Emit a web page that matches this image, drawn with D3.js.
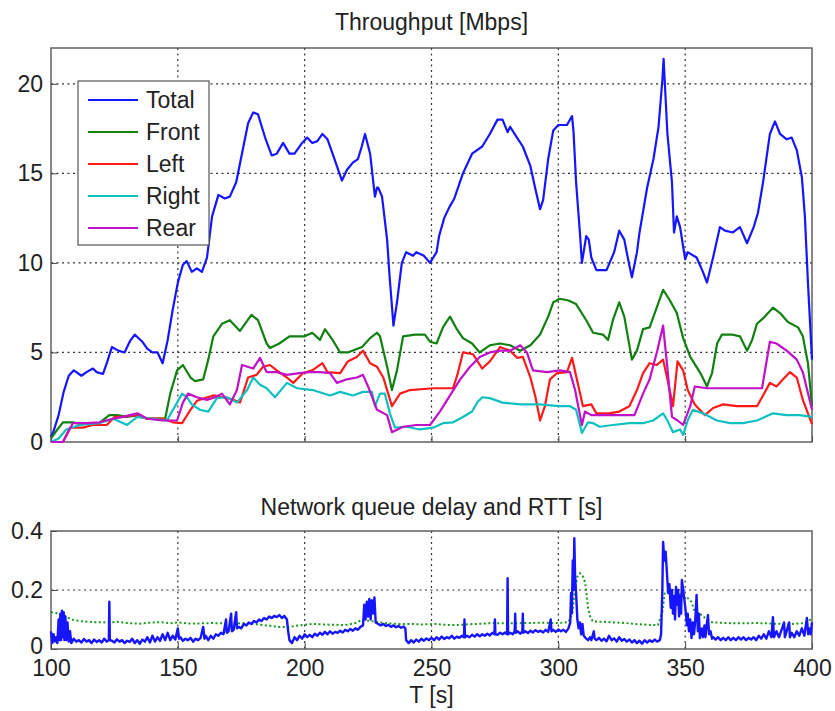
<!DOCTYPE html>
<html><head><meta charset="utf-8">
<script src="https://cdn.jsdelivr.net/npm/d3@7"></script>
<style>body{margin:0;background:#fff}svg text{font-family:"Liberation Sans",Arial,sans-serif;fill:#222}</style>
</head><body><svg id="c" width="835" height="711"></svg>
<script>
// ---- data ----
const xTicks = [100,150,200,250,300,350,400];
const thrTicks = [0,5,10,15,20];
const delayTicks = [0,0.2,0.4];
const seriesNames = ["Total","Front","Left","Right","Rear"];

const total = [[100,0.3],[101,0.6],[103,1.5],[105,2.8],[107,3.7],[109,4.0],[112,3.7],[114,3.9],[116.5,4.1],[118,3.9],[120.5,3.8],[122,4.4],[124,5.3],[126.5,5.1],[129,5.0],[131,5.6],[133,6.0],[136,5.6],[138,5.2],[140,5.0],[142,5.0],[144,4.4],[146,5.7],[148,7.4],[150,8.9],[152,9.9],[153.5,10.1],[155.5,9.5],[157.5,9.7],[159.5,9.5],[161.5,10.3],[163.5,12.6],[166,13.8],[168.5,13.6],[170.5,13.7],[173,14.5],[175,15.9],[177.7,17.8],[179.7,18.4],[181.6,18.3],[184.4,17.0],[187,16.0],[189,16.1],[191.5,16.7],[194,16.1],[196,16.1],[199,16.7],[201,17.0],[203,16.7],[205,16.8],[207,17.2],[209,16.9],[211,16.1],[214.7,14.6],[216.7,15.2],[219,15.6],[221,15.8],[222.5,16.5],[223.8,17.2],[225.8,16.1],[227.7,13.7],[228.5,14.2],[229,14.2],[230.5,13.7],[232.5,11.3],[233.5,9.2],[235,6.5],[236.4,7.8],[238.3,10.0],[240,10.6],[242.7,10.4],[244,10.6],[247,10.4],[249.4,10.0],[252,10.6],[253,11.5],[255,12.5],[257,13.1],[259,13.6],[262.4,15.0],[266,16.1],[270,16.5],[273,17.2],[276,18.0],[278,18.0],[280,17.3],[281,17.6],[283.7,17.0],[286,16.5],[289,15.4],[291,14.1],[292.8,13.0],[294,13.5],[296,15.8],[298,17.4],[300,17.7],[303.4,17.7],[305.4,18.2],[306,17.3],[307,14.5],[308.5,11.7],[309.3,10.0],[311,11.5],[312,11.3],[313,10.3],[315,9.6],[319,9.6],[322,10.6],[324,11.8],[326,11.3],[327.5,10.2],[329,9.2],[331,10.6],[332,11.7],[335,14.2],[337.5,15.8],[339.5,17.6],[341,20.2],[341.5,21.4],[342,20.0],[343,17.2],[344.8,14.5],[345.6,11.7],[346.7,12.6],[348,12.0],[350,10.2],[351,10.6],[354.5,10.3],[357,9.5],[358.6,8.9],[361,10.3],[363.7,12.0],[365.7,11.8],[368.8,11.7],[371.6,12.0],[374.4,11.1],[377,12.0],[378.7,12.8],[380.7,14.5],[383.4,17.2],[385.4,17.9],[387.4,17.2],[390,16.9],[392,17.0],[394,16.3],[396,14.8],[397.2,12.6],[398.4,8.9],[400,4.6]];

const front = [[100,0.2],[102,0.6],[104.7,1.1],[108.6,1.1],[112,1.0],[119,1.05],[123,1.5],[126,1.5],[130,1.4],[134,1.5],[138,1.3],[142,1.3],[145,1.3],[147,2.7],[149.7,4.0],[152,4.3],[155,3.6],[156.8,3.4],[160,3.5],[162,4.6],[164,5.9],[167.4,6.6],[170.5,6.8],[174.5,6.2],[179,7.1],[181.6,6.8],[185,5.5],[186.3,5.25],[190,5.5],[194,5.9],[200,5.9],[203,6.1],[206,5.7],[208,6.3],[211,5.7],[214,5.0],[217,5.0],[222.6,5.3],[225.8,5.8],[228.5,6.1],[229.7,5.9],[232.5,4.2],[234.4,2.9],[236.4,4.0],[238.8,5.9],[243.5,6.0],[247.4,6.0],[249.4,5.6],[252,5.5],[254.5,6.4],[257.3,7.0],[260,6.3],[262.4,5.8],[266,5.5],[269,5.0],[273,5.4],[277,5.5],[281,5.4],[285,5.1],[289,5.4],[292.8,6.0],[296,7.0],[298,7.8],[300.6,8.0],[304,7.9],[307,7.7],[311,6.8],[313.7,6.1],[317.6,6.0],[319.6,5.7],[321.5,6.8],[324,7.8],[326,7.0],[329,4.6],[331,5.1],[333.4,6.3],[336,6.4],[338,7.2],[341.3,8.5],[344,7.9],[346.7,7.2],[349.2,5.8],[352,4.75],[356,3.85],[358.6,3.1],[360.6,3.85],[362.6,5.5],[364.5,6.0],[368.4,6.0],[371.6,5.9],[374.4,5.1],[376.4,5.7],[378.3,6.6],[380.7,6.9],[384.6,7.5],[387.4,7.2],[390.5,6.7],[394.5,6.4],[396.4,5.9],[398.4,4.4],[400,2.0]];

const left = [[100,0],[104.7,0],[107.5,0.8],[112.6,0.8],[116.5,0.95],[122,0.95],[125,1.4],[128.5,1.4],[132,1.5],[138,1.3],[144,1.3],[148,1.1],[151.7,1.05],[155,1.8],[157.5,2.3],[160.7,2.45],[164,2.6],[168,2.5],[172,2.35],[174.5,2.2],[177.7,3.6],[181,3.75],[183.6,4.2],[186.3,4.3],[189,4.0],[193,3.6],[195.5,3.3],[199.4,3.85],[203,4.0],[207,4.4],[209,3.9],[214,3.85],[217,4.5],[220.5,4.75],[223,5.1],[225.8,4.4],[228.5,4.2],[231,3.6],[234.4,2.0],[237.6,2.7],[241.5,2.9],[250.6,3.0],[258.5,3.0],[260.4,3.85],[262.4,5.0],[266.4,4.9],[270,4.1],[273,4.5],[277,5.3],[281,5.1],[283.7,4.7],[286,4.75],[289,3.6],[291,2.5],[292.8,1.2],[294.7,2.0],[296.7,3.5],[299.5,3.85],[303.4,3.9],[305.4,4.7],[307.3,3.5],[309.7,2.0],[313,2.1],[315,1.6],[320,1.6],[324,1.7],[328,2.0],[331,2.9],[333.4,3.85],[336,4.4],[338.8,4.3],[341.3,4.6],[343,3.5],[345.2,2.0],[347,4.5],[349.2,4.0],[351,2.9],[353.8,2.1],[357.8,1.5],[361,1.9],[365,2.1],[370.4,2.0],[378.3,2.0],[380.7,2.6],[383.4,3.3],[386,3.1],[388.6,3.5],[391.3,3.9],[394,3.6],[396.4,2.35],[400,1.0]];

const right = [[100,0],[103,0.2],[106,0.7],[111.4,0.95],[119,1.05],[124.5,1.3],[130,0.95],[134,1.4],[139,1.3],[145.7,1.2],[149.7,2.2],[151.7,2.7],[153.6,2.5],[155.5,2.1],[158.7,1.8],[162,1.7],[165.4,2.45],[169.4,2.5],[173.3,2.2],[177.3,2.9],[179.7,3.6],[182.4,3.2],[185,3.0],[188.3,2.5],[193,3.3],[197,3.0],[203.2,2.9],[210,2.6],[214,2.8],[219,2.6],[223,2.8],[226.5,2.8],[227.7,2.0],[229.7,2.7],[231.6,2.7],[233.6,1.6],[235.6,0.8],[240.3,0.85],[245.4,0.7],[250.6,0.8],[254.5,1.05],[258.5,1.1],[262.4,1.4],[266,1.7],[268,2.2],[270,2.5],[273,2.45],[278,2.2],[285,2.1],[292.8,2.1],[300,2.0],[304.6,2.0],[307,1.8],[309.3,0.5],[311.7,1.1],[313.7,1.05],[316.4,0.85],[321.5,0.95],[328,1.05],[333.4,1.05],[337.4,1.2],[341.3,1.6],[343,1.2],[345.2,0.55],[348,0.7],[349.2,0.4],[351,1.2],[353,1.8],[357,1.6],[362.5,1.2],[367.7,1.05],[372.8,1.05],[378.3,1.2],[384.6,1.6],[390,1.5],[395,1.5],[400,1.4]];

const rear = [[100,0],[104.7,0],[108.6,1.05],[114,1.05],[119,1.1],[124.5,1.3],[128.5,1.4],[134,1.6],[138,1.3],[144,1.2],[149.7,1.2],[152,2.2],[154,2.7],[157.5,2.5],[161.5,2.35],[164.7,2.5],[167.4,2.7],[170.5,2.1],[173.3,2.9],[175.3,4.3],[179.7,4.1],[182.4,4.7],[185,3.9],[189,3.9],[193,3.75],[198,3.85],[202,3.9],[206,3.9],[210,3.85],[212.7,3.3],[216.7,3.5],[220.6,3.6],[223,3.75],[225,3.1],[228.5,1.8],[232.5,1.5],[234.4,0.55],[238.8,0.85],[244,0.95],[249.4,0.95],[253.3,1.7],[257.3,2.6],[261.3,3.5],[265.2,4.2],[269,4.75],[273,5.0],[277,5.1],[281,5.1],[285,5.4],[287.6,5.0],[290,4.0],[295.5,3.9],[300.6,4.0],[304.6,3.9],[306.6,2.9],[309.3,0.95],[310.5,1.7],[313,1.5],[319,1.5],[324,1.5],[330,1.5],[333.4,2.7],[336,3.5],[339,5.1],[341.3,6.5],[342.8,4.4],[344.8,1.4],[347,1.2],[349.2,0.95],[352,2.0],[353.8,3.1],[358.6,3.0],[365,3.0],[372.8,3.0],[380.3,3.0],[383.4,5.6],[386,5.5],[390,5.1],[394,4.6],[396.4,3.9],[400,1.8]];

const rtt = [[100,0.125],[102,0.122],[105,0.115],[107,0.105],[109,0.098],[112,0.094],[117,0.091],[122,0.09],[126,0.092],[130,0.088],[135,0.086],[140,0.09],[143.7,0.091],[147,0.087],[150,0.09],[155,0.086],[160,0.087],[163.5,0.088],[168,0.087],[172,0.086],[176.5,0.088],[181,0.084],[185,0.08],[189.5,0.075],[193,0.074],[196,0.078],[200,0.082],[203,0.085],[208,0.083],[212,0.082],[216,0.081],[220,0.088],[222.5,0.098],[226,0.095],[229,0.091],[233,0.087],[237,0.085],[242,0.085],[246,0.083],[251.5,0.085],[255,0.082],[260.5,0.081],[265,0.084],[270,0.086],[273.8,0.088],[280,0.087],[287,0.088],[293,0.089],[300,0.088],[304,0.091],[305.5,0.12],[306.5,0.2],[307.5,0.245],[308.5,0.257],[309.5,0.25],[310.5,0.227],[311.2,0.18],[311.7,0.139],[312.7,0.105],[313.7,0.093],[318,0.092],[322,0.09],[326.5,0.088],[330,0.085],[335,0.082],[339.3,0.081],[341,0.125],[342,0.193],[344.8,0.2],[346.5,0.19],[348.7,0.183],[351,0.173],[352.5,0.16],[353.8,0.125],[356.6,0.115],[358.5,0.1],[360.6,0.091],[365.7,0.088],[372,0.087],[378.7,0.088],[385,0.086],[392,0.085],[397.2,0.088],[399,0.098],[400,0.1]];

const queueDelay = [[100,0.06],[100.5,0.02],[101,0.05],[101.5,0.025],[102,0.04],[102.5,0.02],[103,0.1],[103.3,0.03],[103.7,0.12],[104,0.03],[104.3,0.13],[104.7,0.04],[105,0.125],[105.3,0.03],[105.7,0.11],[106,0.03],[106.5,0.09],[107,0.025],[107.5,0.06],[108,0.02],[109,0.035],[110,0.025],[111,0.03],[112,0.022],[113,0.034],[114,0.025],[115,0.03],[116,0.02],[117,0.032],[118,0.024],[119,0.03],[120,0.022],[121,0.035],[122,0.025],[122.8,0.03],[123,0.16],[123.2,0.03],[124,0.028],[125,0.022],[126,0.033],[127,0.025],[128,0.03],[129,0.02],[130,0.028],[131,0.024],[132,0.035],[133,0.02],[134,0.03],[135,0.018],[136,0.032],[137,0.025],[138,0.04],[139,0.022],[140,0.045],[141,0.025],[142,0.04],[143,0.028],[144,0.05],[145,0.03],[146,0.055],[147,0.03],[148,0.045],[149,0.032],[150,0.07],[150.5,0.035],[151,0.04],[152,0.028],[153,0.035],[154,0.03],[155,0.038],[156,0.025],[157,0.035],[158,0.03],[159,0.038],[160,0.075],[160.5,0.035],[161,0.045],[162,0.03],[163,0.045],[164,0.035],[165,0.05],[166,0.045],[167,0.055],[168,0.05],[169,0.1],[169.3,0.055],[170,0.06],[171,0.12],[171.3,0.06],[172,0.065],[173,0.125],[173.3,0.07],[174,0.075],[175,0.07],[176,0.085],[177,0.08],[178,0.09],[179,0.085],[180,0.095],[181,0.09],[182,0.1],[183,0.095],[184,0.105],[185,0.1],[186,0.11],[187,0.105],[188,0.112],[189,0.108],[190,0.115],[191,0.105],[192,0.112],[193,0.1],[193.5,0.06],[194,0.03],[195,0.02],[196,0.04],[197,0.03],[198,0.045],[199,0.035],[200,0.05],[201,0.04],[202,0.048],[203,0.04],[204,0.052],[205,0.045],[206,0.055],[207,0.048],[208,0.058],[209,0.05],[210,0.06],[211,0.052],[212,0.058],[213,0.055],[214,0.062],[215,0.056],[216,0.065],[217,0.06],[218,0.068],[219,0.062],[220,0.07],[221,0.065],[222,0.075],[223,0.08],[223.5,0.15],[224,0.1],[224.5,0.16],[225,0.11],[225.5,0.17],[226,0.1],[226.5,0.165],[227,0.12],[227.5,0.175],[228,0.09],[229,0.085],[230,0.08],[231,0.085],[232,0.078],[233,0.082],[234,0.075],[235,0.08],[236,0.074],[237,0.078],[238,0.072],[239,0.076],[239.7,0.07],[240,0.03],[241,0.02],[242,0.03],[243,0.022],[244,0.032],[245,0.025],[246,0.035],[247,0.028],[248,0.036],[249,0.03],[250,0.038],[251,0.03],[252,0.04],[253,0.032],[254,0.042],[255,0.034],[256,0.04],[257,0.036],[258,0.045],[259,0.035],[260,0.042],[261,0.038],[262,0.045],[262.8,0.04],[263,0.1],[263.2,0.04],[264,0.045],[265,0.04],[266,0.048],[267,0.042],[268,0.05],[269,0.043],[270,0.05],[271,0.045],[272,0.052],[273,0.046],[274,0.055],[274.8,0.05],[275,0.1],[275.2,0.05],[276,0.048],[277,0.055],[278,0.05],[279,0.056],[279.8,0.05],[280,0.24],[280.2,0.05],[281,0.055],[282,0.05],[282.8,0.06],[283,0.12],[283.2,0.055],[284,0.06],[285,0.052],[285.8,0.06],[286,0.12],[286.2,0.055],[287,0.06],[288,0.054],[289,0.062],[290,0.056],[291,0.064],[292,0.058],[293,0.062],[294,0.056],[295,0.065],[296,0.058],[297,0.1],[297.3,0.06],[298,0.065],[299,0.058],[300,0.066],[301,0.06],[302,0.065],[303,0.058],[304,0.07],[304.7,0.09],[305,0.19],[305.3,0.12],[305.7,0.3],[306,0.2],[306.3,0.376],[306.6,0.25],[307,0.19],[307.5,0.1],[308,0.07],[308.5,0.09],[309,0.05],[309.5,0.085],[310,0.045],[311,0.035],[311.7,0.03],[312.5,0.04],[313,0.03],[314,0.06],[314.3,0.035],[315,0.03],[316,0.038],[317,0.028],[318,0.035],[319,0.026],[320,0.045],[321,0.03],[322,0.036],[323,0.025],[324,0.04],[325,0.028],[326,0.034],[327,0.025],[328,0.032],[329,0.022],[330,0.03],[331,0.02],[332,0.028],[333,0.018],[334,0.03],[335,0.022],[336,0.03],[337,0.024],[338,0.032],[339,0.025],[340,0.03],[340.5,0.05],[341,0.2],[341.3,0.363],[341.8,0.3],[342.3,0.33],[342.8,0.26],[343.3,0.19],[343.8,0.22],[344.3,0.14],[344.8,0.2],[345.2,0.12],[345.6,0.18],[346,0.1],[346.4,0.21],[346.7,0.15],[347.2,0.2],[347.6,0.11],[348,0.18],[348.4,0.12],[348.7,0.234],[349.2,0.2],[349.8,0.16],[350.3,0.12],[350.7,0.08],[351,0.12],[351.5,0.06],[352,0.1],[352.5,0.037],[353,0.09],[353.5,0.05],[354,0.1],[354.5,0.183],[355,0.06],[355.4,0.12],[355.8,0.037],[356.5,0.07],[357,0.04],[357.6,0.08],[358,0.04],[358.6,0.09],[359,0.115],[359.4,0.05],[360,0.06],[360.6,0.035],[361,0.04],[362,0.032],[363,0.04],[364,0.03],[365,0.038],[366,0.03],[367,0.04],[368,0.03],[369,0.038],[370,0.03],[371,0.04],[372,0.032],[373,0.04],[374,0.03],[375,0.038],[376,0.032],[377,0.04],[378,0.03],[379,0.045],[380,0.035],[381,0.05],[382,0.035],[383,0.06],[384,0.04],[384.6,0.108],[385,0.04],[386,0.06],[387,0.04],[388,0.065],[389,0.09],[389.3,0.04],[390,0.06],[391,0.09],[391.3,0.04],[392,0.055],[393,0.04],[394,0.06],[395,0.045],[396,0.07],[397,0.045],[398,0.105],[398.5,0.05],[399,0.07],[399.5,0.05],[400,0.09]];

// ---- drawing ----
const svg = d3.select("#c");
svg.append("rect").attr("width",835).attr("height",711).attr("fill","#fff");
const FS = 23;
const L = 51, R = 812;
const x = d3.scaleLinear().domain([100,400]).range([L,R]);
const yT = d3.scaleLinear().domain([0,22]).range([442,48]);
const yB = d3.scaleLinear().domain([0,0.4]).range([649,531]);

const colors = {Total:"#1515ff",Front:"#108010",Left:"#ff1a1a",Right:"#10c0c0",Rear:"#c010c8"};
const dataMap = {Total:total,Front:front,Left:left,Right:right,Rear:rear};

function panel(y, yTicks, yFmt, showX){
  const g = svg.append("g");
  const [y0,y1] = y.range();
  g.selectAll(".gx").data(xTicks.slice(1,-1)).join("line")
    .attr("x1",d=>x(d)).attr("x2",d=>x(d)).attr("y1",y1).attr("y2",y0)
    .attr("stroke","#333").attr("stroke-width",1.2).attr("stroke-dasharray","2,3.5");
  g.selectAll(".gy").data(yTicks.filter(t=>y(t)<y0-1 && y(t)>y1+1)).join("line")
    .attr("x1",L).attr("x2",R).attr("y1",d=>y(d)).attr("y2",d=>y(d))
    .attr("stroke","#333").attr("stroke-width",1.2).attr("stroke-dasharray","2,3.5");
  const ax = d3.axisBottom(x).tickValues(xTicks).tickSize(-6).tickPadding(11)
    .tickFormat(showX ? d3.format("d") : "");
  const axG = g.append("g").attr("transform",`translate(0,${y0})`).call(ax);
  const ay = d3.axisLeft(y).tickValues(yTicks).tickSize(-6).tickPadding(8).tickFormat(yFmt);
  const ayG = g.append("g").attr("transform",`translate(${L},0)`).call(ay);
  [axG,ayG].forEach(a=>{a.select(".domain").remove();
    a.selectAll("line").attr("stroke","#444");
    a.selectAll("text").attr("font-size",FS).attr("fill","#222").attr("font-family","Liberation Sans, Arial, sans-serif");});
  g.append("rect").attr("x",L).attr("y",y1).attr("width",R-L).attr("height",y0-y1)
    .attr("fill","none").attr("stroke","#555").attr("stroke-width",1.4);
  return {g, ayG};
}

// top panel
const topPanel = panel(yT, thrTicks, d3.format("d"), false);
const gT = topPanel.g;
const lineT = d3.line().x(d=>x(d[0])).y(d=>yT(d[1]));
seriesNames.forEach(n=>{
  gT.append("path").datum(dataMap[n]).attr("d",lineT).attr("fill","none")
    .attr("stroke",colors[n]).attr("stroke-width",2.2).attr("stroke-linejoin","round");
});
// legend
const lg = svg.append("g");
lg.append("rect").attr("x",78).attr("y",81).attr("width",131).attr("height",164)
  .attr("fill","#fff").attr("stroke","#555").attr("stroke-width",1.2);
seriesNames.forEach((n,i)=>{
  const cy = 100 + i*32;
  lg.append("line").attr("x1",88).attr("x2",138).attr("y1",cy).attr("y2",cy)
    .attr("stroke",colors[n]).attr("stroke-width",2.2);
  lg.append("text").attr("x",146).attr("y",cy).attr("dy","0.36em").attr("font-size",FS).text(n);
});
svg.append("text").attr("x",431.5).attr("y",22).attr("dy","0.36em").attr("text-anchor","middle")
  .attr("font-size",FS).text("Throughput [Mbps]");

// bottom panel
const botPanel = panel(yB, delayTicks, d=> d===0 ? "0" : d3.format(".1f")(d), true);
const gB = botPanel.g;
// the "0" label sits slightly above the axis line, as in the reference
botPanel.ayG.selectAll(".tick").filter(d=>d===0).select("text").attr("dy","0.2em");
const lineB = d3.line().x(d=>x(d[0])).y(d=>yB(d[1]));
gB.append("path").datum(rtt).attr("d",lineB).attr("fill","none")
  .attr("stroke","#1a9a1a").attr("stroke-width",2).attr("stroke-dasharray","2,2.5");
gB.append("path").datum(queueDelay).attr("d",lineB).attr("fill","none")
  .attr("stroke","#1515ff").attr("stroke-width",2.4).attr("stroke-linejoin","round");
svg.append("text").attr("x",431.5).attr("y",507).attr("dy","0.36em").attr("text-anchor","middle")
  .attr("font-size",FS).text("Network queue delay and RTT [s]");
svg.append("text").attr("x",431.5).attr("y",695).attr("dy","0.36em").attr("text-anchor","middle")
  .attr("font-size",FS).text("T [s]");
</script></body></html>
